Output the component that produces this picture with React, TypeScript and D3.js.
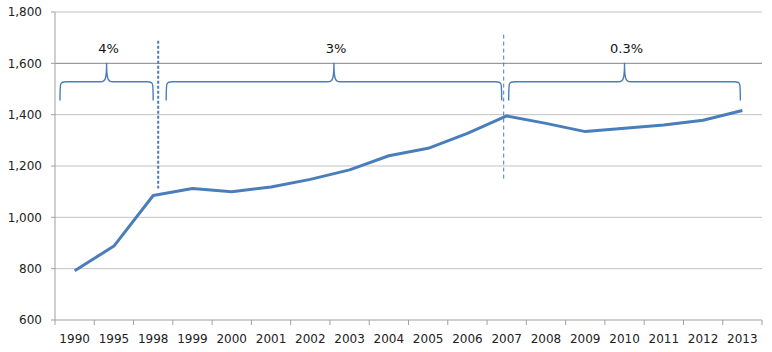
import React from "react";
import * as d3 from "d3";

const years = ["1990", "1995", "1998", "1999", "2000", "2001", "2002", "2003", "2004", "2005", "2006", "2007", "2008", "2009", "2010", "2011", "2012", "2013"];
const values = [792, 888, 1085, 1112, 1100, 1118, 1148, 1185, 1240, 1269, 1327, 1395, 1366, 1334, 1347, 1360, 1378, 1416];
const yTicks = [600, 800, 1000, 1200, 1400, 1600, 1800];

// growth periods shown with braces
const periods = [
  { label: "4%", from: "1990", to: "1998" },
  { label: "3%", from: "1998", to: "2007" },
  { label: "0.3%", from: "2007", to: "2013" },
];

const W = 772;
const H = 352;
const margin = { top: 12, right: 10, bottom: 32, left: 55 };
const blue = "#4a7ebb";

const App = () => {
  const x = d3.scaleBand().domain(years).range([margin.left, W - margin.right]).padding(0);
  const y = d3.scaleLinear().domain([600, 1800]).range([H - margin.bottom, margin.top]);
  const cx = (c: string) => (x(c) as number) + x.bandwidth() / 2;

  const line = d3.line<number>()
    .x((_, i) => cx(years[i]))
    .y(d => y(d));

  // brace x ranges (start, end) around the periods
  const braceX = [
    [(x("1990") as number) + 5, cx("1998")],
    [cx("1998") + 13, cx("2007") - 5],
    [cx("2007") + 2, cx("2013") - 2],
  ];
  const yTop = y(1528);
  const yEnd = y(1455);
  const yTip = y(1602);

  const brace = (x1: number, x2: number) => {
    const m = (x1 + x2) / 2;
    const r = 6;
    return `M${x1},${yEnd} C${x1},${yTop} ${x1},${yTop} ${x1 + r},${yTop}`
      + ` L${m - r},${yTop} C${m - 1},${yTop} ${m},${yTop - 4} ${m},${yTip}`
      + ` C${m},${yTop - 4} ${m + 1},${yTop} ${m + r},${yTop}`
      + ` L${x2 - r},${yTop} C${x2},${yTop} ${x2},${yTop} ${x2},${yEnd}`;
  };

  const x0 = margin.left;
  const x1 = W - margin.right;
  const yBase = y(600);

  return (
    <svg width={W} height={H} style={{ position: "absolute", left: 0, top: 0, background: "#fff" }}
      fontFamily="DejaVu Sans, Verdana, sans-serif">
      {yTicks.slice(1).map(t => (
        <line key={t} x1={x0} x2={x1} y1={y(t)} y2={y(t)}
          stroke={t === 1600 ? "#858585" : "#c3c3c3"} strokeWidth={1} />
      ))}
      {/* axes */}
      <line x1={x0} x2={x0} y1={y(1800)} y2={yBase} stroke="#a0a0a0" />
      <line x1={x0} x2={x1} y1={yBase} y2={yBase} stroke="#a0a0a0" />
      {yTicks.map(t => (
        <g key={t}>
          <line x1={x0 - 4} x2={x0} y1={y(t)} y2={y(t)} stroke="#a0a0a0" />
          <text x={42} y={y(t)} dy="0.36em" textAnchor="end" fontSize={12} fill="#222">
            {d3.format(",")(t)}
          </text>
        </g>
      ))}
      {years.concat(["end"]).map((c, i) => {
        const px = i < years.length ? (x(c) as number) : x1;
        return <line key={c} x1={px} x2={px} y1={yBase} y2={yBase + 5} stroke="#a0a0a0" />;
      })}
      {years.map(c => (
        <text key={c} x={cx(c)} y={343} textAnchor="middle" fontSize={12} fill="#222">{c}</text>
      ))}

      {/* period separators */}
      <line x1={cx("1998") + 5} x2={cx("1998") + 5} y1={y(1688)} y2={y(1112)}
        stroke={blue} strokeWidth={2} strokeDasharray="3,2" />
      <line x1={cx("2007") - 3} x2={cx("2007") - 3} y1={y(1712)} y2={y(1142)}
        stroke={blue} strokeWidth={1} strokeDasharray="4,3" />

      {/* braces and labels */}
      {periods.map((p, i) => {
        const [a, b] = braceX[i];
        return (
          <g key={p.label}>
            <path d={brace(a, b)} fill="none" stroke={blue} strokeWidth={1.4} />
            <text x={(a + b) / 2 + 2} y={y(1640)} textAnchor="middle" fontSize={13} fill="#111">{p.label}</text>
          </g>
        );
      })}

      <path d={line(values) as string} fill="none" stroke={blue} strokeWidth={3} strokeLinejoin="round" />
    </svg>
  );
};

export default App;
